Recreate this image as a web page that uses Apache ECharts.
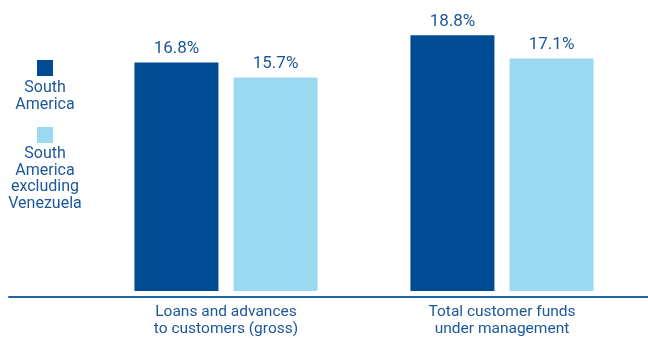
<!DOCTYPE html>
<html><head><meta charset="utf-8">
<script src="https://cdn.jsdelivr.net/npm/echarts@6/dist/echarts.min.js"></script>
<style>html,body{margin:0;padding:0;background:#fff}#c{width:648px;height:338px}</style>
</head><body><div id="c"></div>
<script>
const categories = ['Loans and advances\nto customers (gross)', 'Total customer funds\nunder management'];
const seriesNames = ['South\nAmerica', 'South\nAmerica\nexcluding\nVenezuela'];
const southAmerica = [16.8, 18.8];
const exVenezuela = [15.7, 17.1];

const DARK = '#004b94', LIGHT = '#9bd8f1', TXT = '#1b579b', AX = '#1d63a8';
const FONT = '"Roboto", sans-serif';

const chart = echarts.init(document.getElementById('c'));
chart.setOption({
  animation: false,
  grid: [
    {left: 88, right: 8, top: 0, bottom: 41},
    {left: 9, right: 0, top: 0, bottom: 41}
  ],
  xAxis: [
    {type: 'category', data: categories, gridIndex: 0,
     axisLine: {show: false}, axisTick: {show: false},
     axisLabel: {color: TXT, fontFamily: FONT, fontSize: 15.5, lineHeight: 17, margin: 13}},
    {type: 'category', data: [''], gridIndex: 1,
     axisLine: {show: true, lineStyle: {color: AX, width: 2}}, axisTick: {show: false},
     axisLabel: {show: false}}
  ],
  yAxis: [
    {type: 'value', min: 0, max: 21.4, gridIndex: 0, show: false, splitLine: {show: false}},
    {type: 'value', min: 0, max: 1, gridIndex: 1, show: false, splitLine: {show: false}}
  ],
  series: [
    {name: seriesNames[0], type: 'bar', data: southAmerica, barWidth: 84, barGap: '18%',
     itemStyle: {color: DARK},
     label: {show: true, position: 'top', distance: 5, color: TXT, fontFamily: FONT, fontSize: 17,
             formatter: p => p.value.toFixed(1) + '%'}},
    {name: seriesNames[1], type: 'bar', data: exVenezuela, barWidth: 84, barGap: '18%',
     itemStyle: {color: LIGHT},
     label: {show: true, position: 'top', distance: 5, color: TXT, fontFamily: FONT, fontSize: 17,
             formatter: p => p.value.toFixed(1) + '%'}}
  ],
  graphic: [
    {type: 'rect', x: 37, y: 60, shape: {width: 16, height: 16}, style: {fill: DARK}},
    {type: 'text', x: 45, y: 79, style: {text: seriesNames[0], fill: TXT, font: '16px ' + FONT, textAlign: 'center', textVerticalAlign: 'top', lineHeight: 17}},
    {type: 'rect', x: 37, y: 127, shape: {width: 16, height: 16}, style: {fill: LIGHT}},
    {type: 'text', x: 45, y: 146, style: {text: seriesNames[1], fill: TXT, font: '16px ' + FONT, textAlign: 'center', textVerticalAlign: 'top', lineHeight: 16.5}}
  ]
});
</script></body></html>
